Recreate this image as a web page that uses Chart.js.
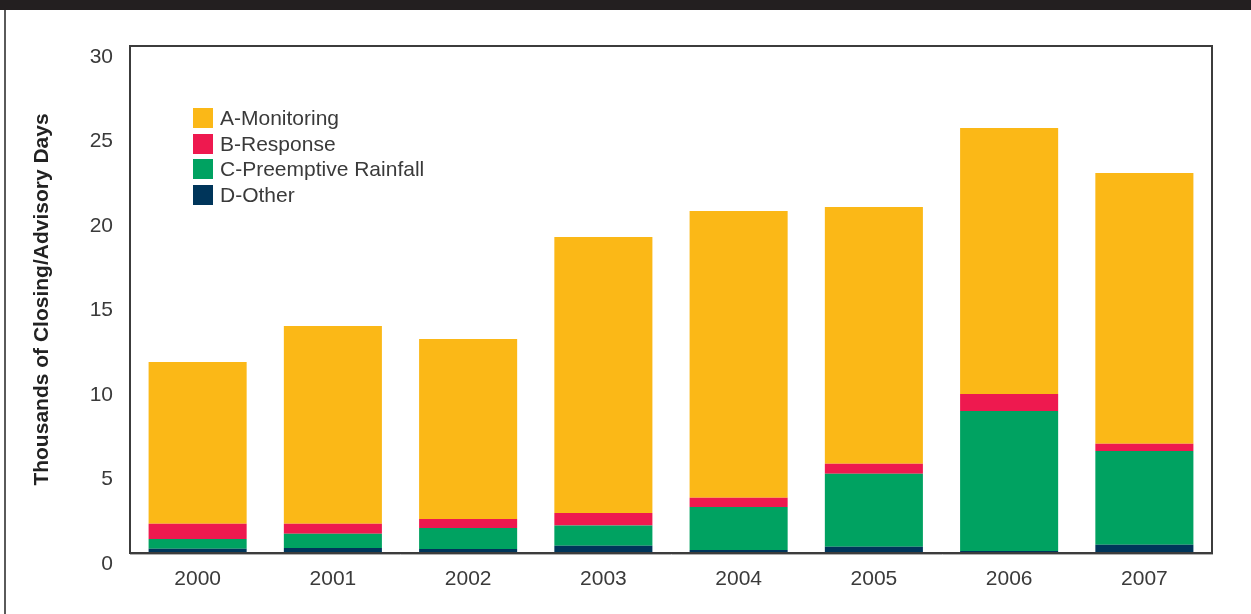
<!DOCTYPE html>
<html>
<head>
<meta charset="utf-8">
<script src="https://cdn.jsdelivr.net/npm/chart.js@4/dist/chart.umd.min.js"></script>
<style>
  body { margin: 0; background: #fff; }
  #wrap { position: relative; width: 1251px; height: 614px; overflow: hidden; }
  #band { position: absolute; left: 0; top: 0; width: 1251px; height: 10px; background: #231f20; }
  #edge { position: absolute; left: 4px; top: 10px; width: 2px; height: 604px; background: #5a5a5a; }
  #chart { position: absolute; left: 0; top: 0; }
  #legend { position: absolute; left: 193px; top: 105px; font-family: "Liberation Sans", Arial, sans-serif; font-size: 21px; color: #3a3a3a; }
  #legend div { height: 25.5px; line-height: 25.5px; white-space: nowrap; }
  #legend span.box { display: inline-block; width: 20px; height: 20px; vertical-align: -3px; margin-right: 7px; }
</style>
</head>
<body>
<div id="wrap">
  <canvas id="chart" width="1251" height="614"></canvas>
  <div id="band"></div>
  <div id="edge"></div>
  <div id="legend"></div>
</div>
<script>
'use strict';

// years on the x axis
var years = ['2000', '2001', '2002', '2003', '2004', '2005', '2006', '2007'];

// thousands of closing/advisory days, per category
var monitoring = [9.57, 11.70, 10.65, 16.33, 16.97, 15.19, 15.74, 16.02];
var response = [0.90, 0.59, 0.53, 0.75, 0.55, 0.59, 1.01, 0.43];
var rainfall = [0.58, 0.84, 1.24, 1.19, 2.54, 4.32, 8.28, 5.55];
var other = [0.25, 0.30, 0.24, 0.43, 0.18, 0.37, 0.12, 0.49];

var yTicks = [0, 5, 10, 15, 20, 25, 30];

var seriesNames = ['A-Monitoring', 'B-Response', 'C-Preemptive Rainfall', 'D-Other'];
var seriesColors = ['#fbb817', '#ee194f', '#00a261', '#00355a'];
var seriesData = [monitoring, response, rainfall, other];

var textFont = '"Liberation Sans", Arial, sans-serif';

// bottom dataset first so the stack builds D, C, B, A
var datasets = [];
for (var i = seriesNames.length - 1; i >= 0; i--) {
    datasets.push({
        label: seriesNames[i],
        data: seriesData[i],
        backgroundColor: seriesColors[i],
        borderWidth: 0
    });
}

var plotFrame = {
    id: 'plotFrame',
    afterDatasetsDraw: function(chart) {
        var a = chart.chartArea;
        var ctx = chart.ctx;
        ctx.save();
        ctx.strokeStyle = '#3c3c3c';
        ctx.lineWidth = 2;
        ctx.strokeRect(a.left, a.top, a.right - a.left, a.bottom - a.top);
        ctx.strokeStyle = '#b0b0b0';
        ctx.lineWidth = 1;
        ctx.beginPath();
        ctx.moveTo(a.left, a.bottom + 1.5);
        ctx.lineTo(a.right + 1, a.bottom + 1.5);
        ctx.stroke();
        ctx.restore();
    }
};

new Chart(document.getElementById('chart'), {
    type: 'bar',
    data: { labels: years, datasets: datasets },
    plugins: [plotFrame],
    options: {
        responsive: false,
        animation: false,
        layout: { padding: { left: 0, top: 46, right: 39, bottom: 0 } },
        plugins: {
            legend: { display: false },
            tooltip: { enabled: false }
        },
        datasets: {
            bar: { categoryPercentage: 1, barPercentage: 0.725 }
        },
        scales: {
            x: {
                stacked: true,
                grid: { display: false, drawTicks: false },
                border: { display: false },
                ticks: {
                    padding: 14,
                    color: '#3a3a3a',
                    font: { family: textFont, size: 21 }
                },
                afterFit: function(scale) { scale.height = 61; }
            },
            y: {
                stacked: true,
                min: 0,
                max: 30,
                afterBuildTicks: function(scale) {
                    scale.ticks = yTicks.map(function(v) { return { value: v }; });
                },
                grid: { display: false, drawTicks: false },
                border: { display: false },
                ticks: {
                    padding: 17,
                    labelOffset: 11,
                    color: '#3a3a3a',
                    font: { family: textFont, size: 21 }
                },
                title: {
                    display: true,
                    text: 'Thousands of Closing/Advisory Days',
                    color: '#222',
                    font: { family: textFont, size: 21, weight: 'bold' },
                    padding: { top: 30, bottom: 0 }
                },
                afterFit: function(scale) { scale.width = 130; }
            }
        }
    }
});

// legend, top row is A like the stack's top
var legend = document.getElementById('legend');
seriesNames.forEach(function(name, i) {
    var row = document.createElement('div');
    var box = document.createElement('span');
    box.className = 'box';
    box.style.background = seriesColors[i];
    row.appendChild(box);
    row.appendChild(document.createTextNode(name));
    legend.appendChild(row);
});
</script>
</body>
</html>
